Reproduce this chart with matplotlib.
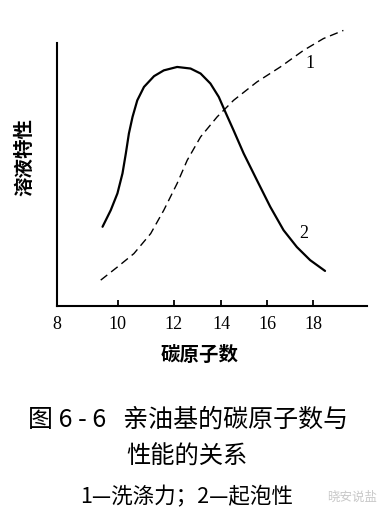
import matplotlib
matplotlib.use('Agg')
import matplotlib.pyplot as plt
import numpy as np

plt.rcParams['font.family'] = ['Noto Sans CJK SC', 'DejaVu Sans']

# curve 1 - 洗涤力 (dashed)
x1 = [9.44, 9.99, 10.58, 11.18, 11.65, 12.15, 12.57, 13.13, 13.82, 14.53,
      15.55, 16.57, 17.58, 18.45, 19.32]
y1 = [9.9, 14.9, 20.0, 27.6, 36.5, 46.7, 55.5, 64.4, 72.0, 78.3,
      85.3, 91.0, 97.3, 101.8, 104.9]

# curve 2 - 起泡性 (solid)
x2 = [9.50, 9.77, 9.99, 10.17, 10.29, 10.40, 10.53, 10.70, 10.94, 11.30,
      11.65, 12.15, 12.71, 13.13, 13.54, 13.89, 14.17, 14.53, 14.97, 15.55,
      16.13, 16.71, 17.29, 17.87, 18.52]
y2 = [30.2, 36.5, 42.9, 50.5, 58.1, 65.7, 72.0, 78.3, 83.4, 87.5,
      89.7, 91.0, 90.4, 88.5, 84.7, 79.6, 73.9, 66.9, 58.1, 47.9,
      37.8, 28.9, 22.5, 17.5, 13.4]

ticks = [8, 10, 12, 14, 16, 18]
tick_labels = ['8', '10', '12', '14', '16', '18']

# the printed axis is not evenly spaced
knot_x = [4, 8, 10, 12, 14, 16, 18, 24]
knot_p = [-122, 0, 61, 117, 165, 211, 257, 395]

def fwd(x):
    return np.interp(x, knot_x, knot_p)

def inv(p):
    return np.interp(p, knot_p, knot_x)

fig = plt.figure(figsize=(3.9, 5.18), dpi=100)
ax = fig.add_axes([0.146, 0.409, 0.795, 0.548])
ax.set_xscale('function', functions=(fwd, inv))

ax.plot(x2, y2, color='black', lw=1.6, solid_capstyle='round', solid_joinstyle='round')
ax.plot(x1, y1, color='black', lw=1.0, dashes=(6, 3.5))

ax.text(17.87, 92.3, '1', fontsize=13, family='Liberation Serif', ha='center', va='center')
ax.text(17.58, 27.6, '2', fontsize=13, family='Liberation Serif', ha='center', va='center')

ax.set_xlim(8, 20.35)
ax.set_ylim(0, 108)
ax.set_xticks(ticks)
ax.set_xticklabels(tick_labels, family='Liberation Serif', fontsize=13)
ax.set_yticks([])
ax.tick_params(axis='x', direction='in', length=4.5, width=1.3, pad=7)
ax.spines['top'].set_visible(False)
ax.spines['right'].set_visible(False)
ax.spines['left'].set_bounds(0, 100)
ax.spines['left'].set_linewidth(1.5)
ax.spines['bottom'].set_linewidth(1.5)
ax.patch.set_visible(False)
for ln in ax.lines:
    ln.set_clip_on(False)

fig.text(25 / 390, 1 - 157 / 518, '溶液特性', rotation=90, fontsize=14,
         fontweight='bold', ha='center', va='center')
fig.text(200 / 390, 1 - 355 / 518, '碳原子数', fontsize=14,
         fontweight='bold', ha='center', va='center')

fig.text(188 / 390, 1 - 420 / 518, '图 6 - 6   亲油基的碳原子数与', fontsize=18,
         ha='center', va='center')
fig.text(187 / 390, 1 - 457 / 518, '性能的关系', fontsize=17.5,
         ha='center', va='center')
fig.text(187 / 390, 1 - 497 / 518, '1—洗涤力；2—起泡性', fontsize=15.5,
         ha='center', va='center')
fig.text(352 / 390, 1 - 497 / 518, '晓安说盐', fontsize=9, color='#c8c8c8',
         ha='center', va='center')

fig.savefig('out.png', dpi=100)
